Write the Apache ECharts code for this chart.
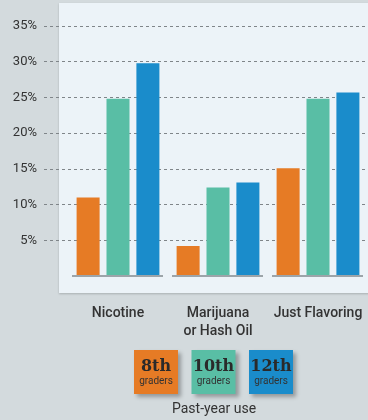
<!DOCTYPE html>
<html><head><meta charset="utf-8">
<script src="https://cdn.jsdelivr.net/npm/echarts@6/dist/echarts.min.js"></script>
<style>html,body{margin:0;padding:0;background:#d3dadd;}#c{width:368px;height:420px;}</style>
</head><body><div id="c"></div>
<script>
const categories = ['Nicotine', 'Marijuana\nor Hash Oil', 'Just Flavoring'];
const grades = ['8th', '10th', '12th'];
const gradeSub = 'graders';
const grade8 = [11.0, 4.2, 15.1];
const grade10 = [24.8, 12.4, 24.8];
const grade12 = [29.8, 13.1, 25.7];
const colors = ['#e67b25', '#59bea5', '#1a8ccb'];
const yMax = 35, yStep = 5;
const footer = 'Past-year use';

const chart = echarts.init(document.getElementById('c'));
const seriesVals = [grade8, grade10, grade12];

const legendGraphics = grades.map((g, i) => ({
  type: 'group', left: 134 + i * 57.5, top: 350,
  children: [
    { type: 'rect', shape: { x: 0, y: 0, width: 44, height: 44 },
      style: { fill: colors[i], shadowBlur: 4, shadowOffsetX: 3, shadowOffsetY: 3, shadowColor: 'rgba(0,0,0,0.3)' } },
    { type: 'text', x: 22, y: 17, style: { text: g, fill: '#2a2a2a', font: 'bold 16px "DejaVu Serif"', align: 'center', verticalAlign: 'middle' } },
    { type: 'text', x: 22, y: 31, style: { text: gradeSub, fill: '#333', font: '10px Roboto', align: 'center', verticalAlign: 'middle' } }
  ]
}));

chart.setOption({
  backgroundColor: '#d3dadd',
  animation: false,
  graphic: [
    { type: 'rect', z: -10, shape: { x: 59, y: 3, width: 320, height: 290 },
      style: { fill: '#ecf3f8', shadowBlur: 2, shadowOffsetY: 1, shadowColor: 'rgba(0,0,0,0.2)' } },
    ...legendGraphics,
    { type: 'text', left: 172, top: 402, style: { text: footer, fill: '#333', font: '14px Roboto' } }
  ],
  grid: [
    { left: 44, right: 0, top: 26, bottom: 144 },
    { left: 68, width: 302, top: 26, bottom: 144 }
  ],
  xAxis: [
    { type: 'category', gridIndex: 0, data: categories, show: false },
    { type: 'category', gridIndex: 1, data: categories,
      axisLine: { show: false }, axisTick: { show: false },
      axisLabel: { interval: 0, margin: 28, color: '#333', fontFamily: 'Roboto', fontSize: 14, fontWeight: 500, lineHeight: 18 } }
  ],
  yAxis: [
    { type: 'value', gridIndex: 0, min: 0, max: yMax, interval: yStep,
      axisLine: { show: false }, axisTick: { show: false },
      axisLabel: { margin: 7, color: '#333', fontFamily: 'Roboto', fontSize: 13,
        formatter: v => v === 0 ? '' : v + '%' },
      splitLine: { lineStyle: { color: '#7f8589', type: [3, 3], width: 1 },
        showMinLine: false } },
    { type: 'value', gridIndex: 1, min: 0, max: yMax, interval: yStep, show: false, splitLine: { show: false } }
  ],
  series: [
    ...seriesVals.map((vals, i) => ({
      type: 'bar', name: grades[i], xAxisIndex: 1, yAxisIndex: 1, data: vals,
      barWidth: 23, barGap: '30%', itemStyle: { color: colors[i] }
    })),
    { type: 'custom', xAxisIndex: 1, yAxisIndex: 1, z: 5,
      data: categories.map((c, i) => [i, 0]),
      encode: { x: 0, y: 1 },
      renderItem: (params, api) => {
        const p = api.coord([api.value(0), 0]);
        const w = api.size([1, 0])[0];
        return { type: 'line', shape: { x1: p[0] - w / 2 + 4, y1: p[1], x2: p[0] + w / 2 - 5, y2: p[1] },
          style: { stroke: '#9ca4a9', lineWidth: 2 } };
      } }
  ]
});
</script></body></html>
